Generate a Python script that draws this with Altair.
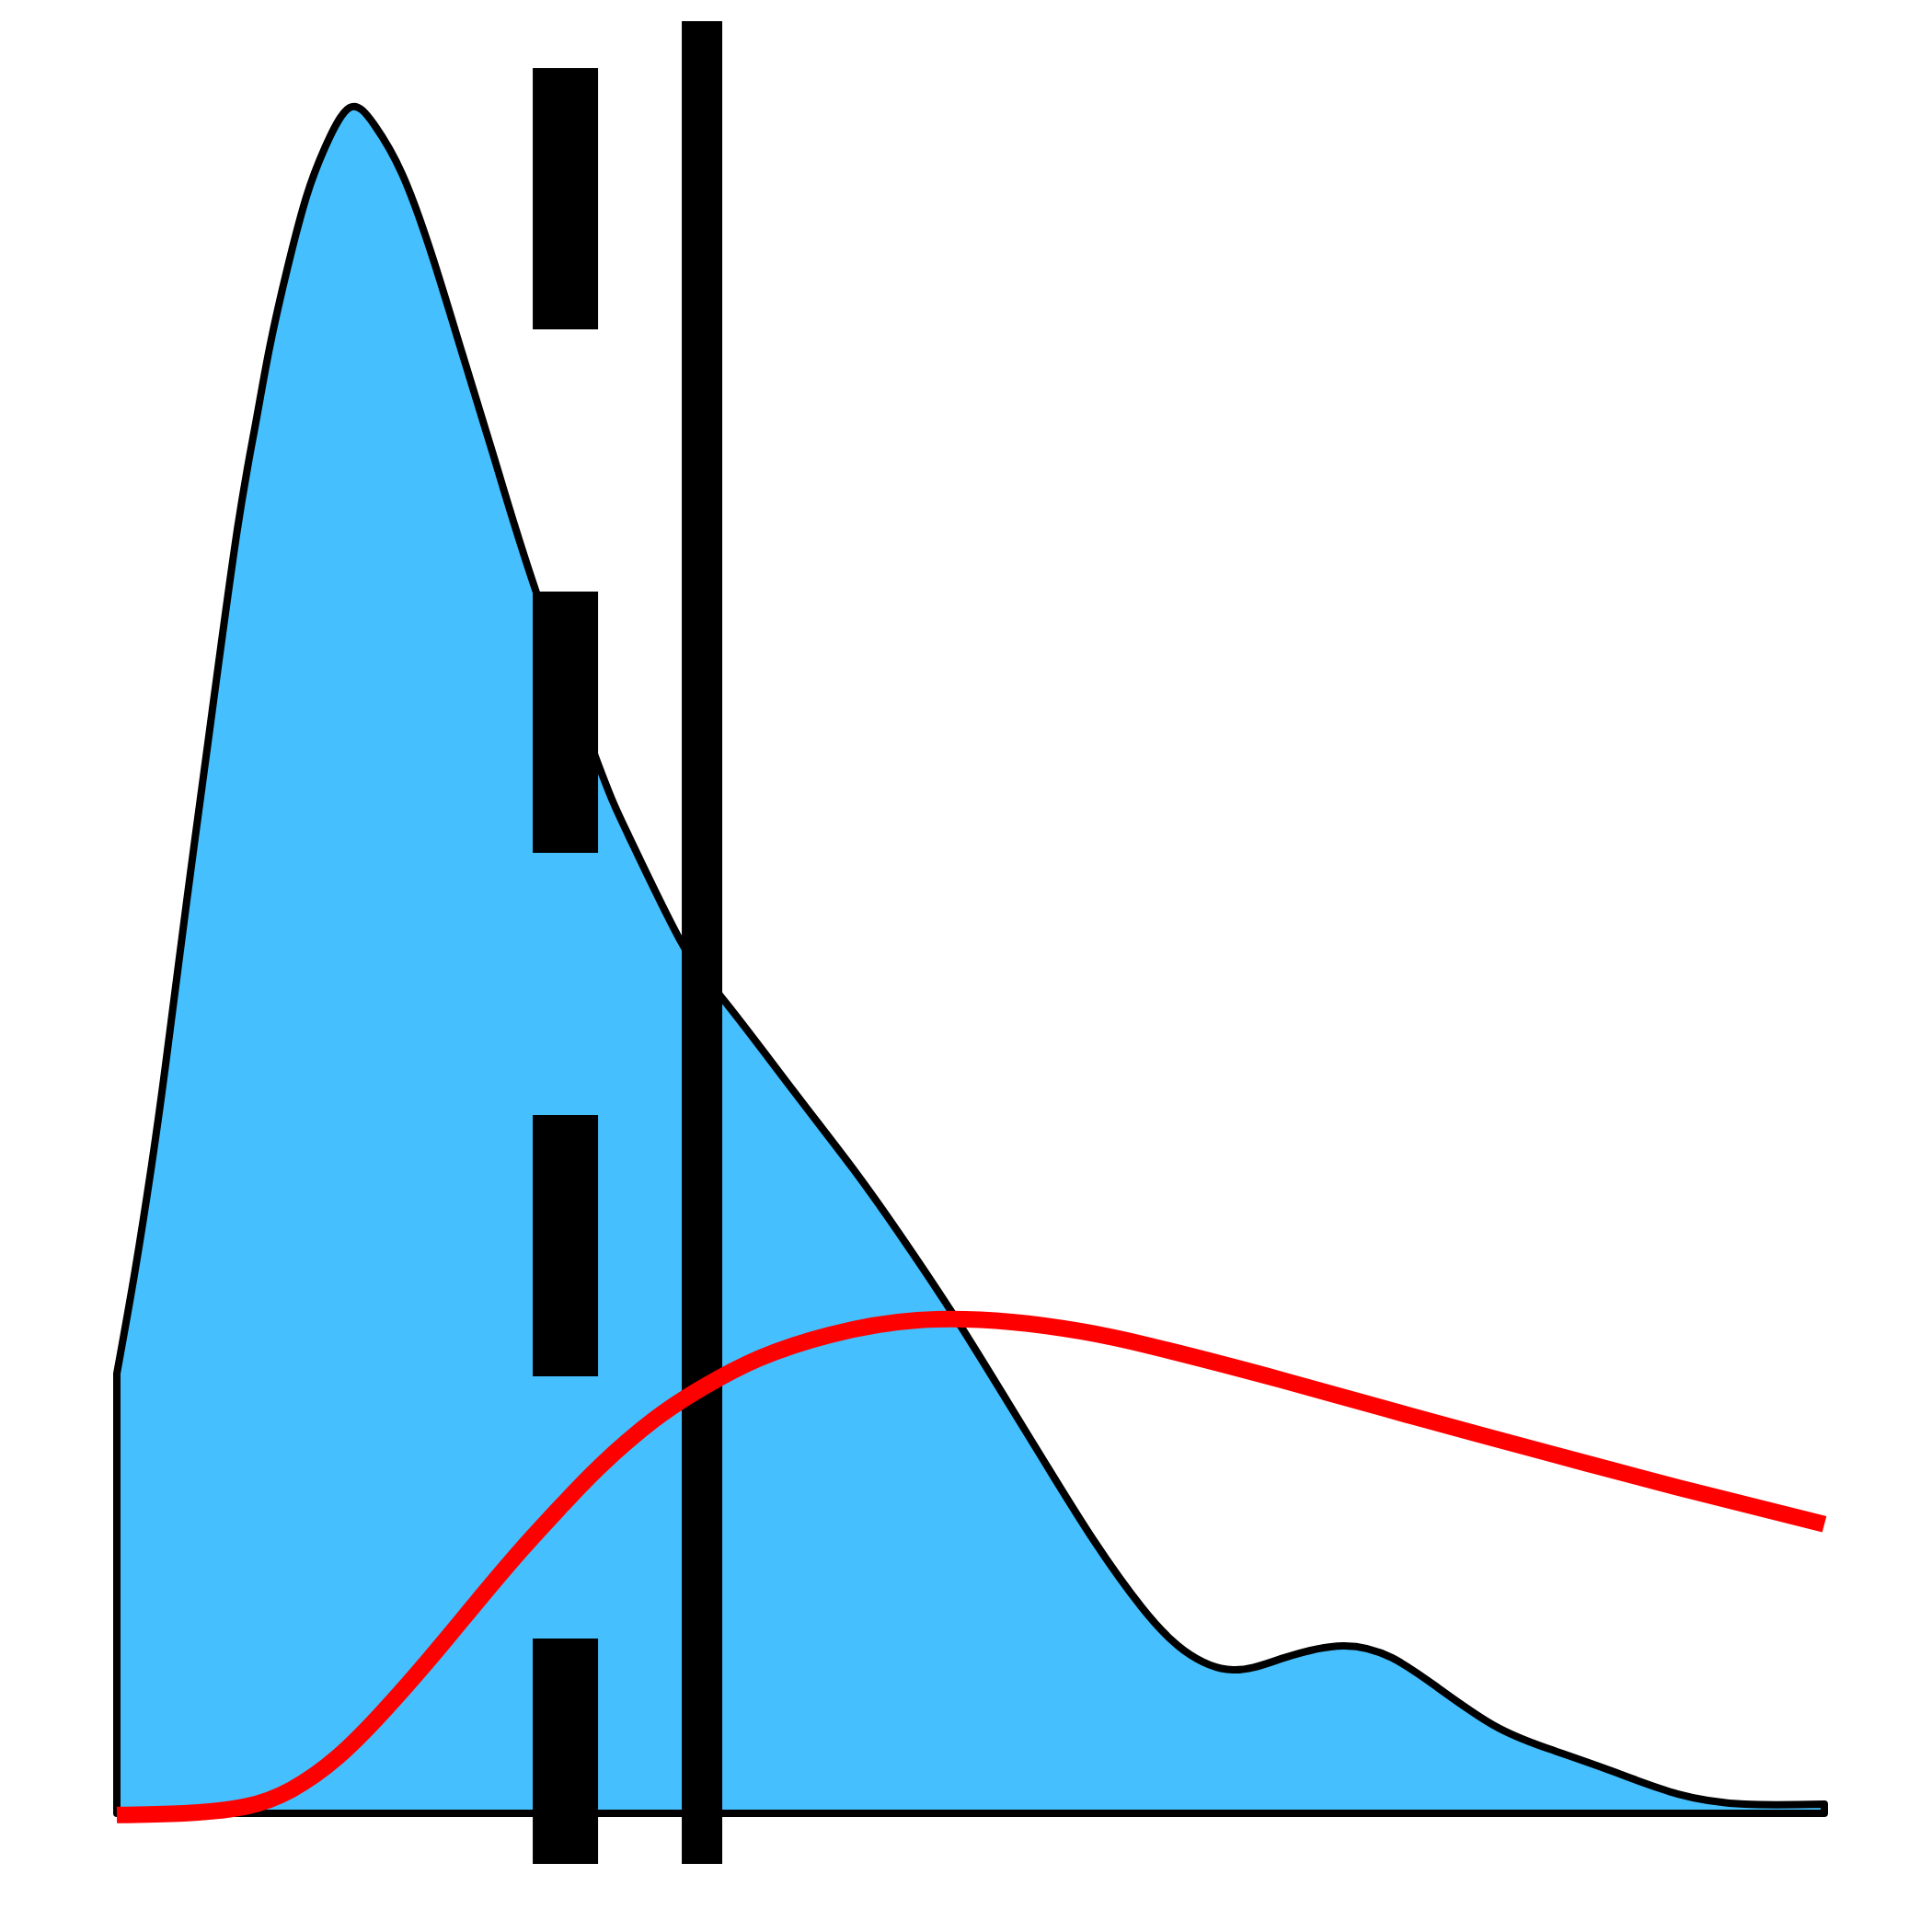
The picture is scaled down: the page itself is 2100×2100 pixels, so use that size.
import altair as alt
import pandas as pd

# Density curve (blue area with black outline)
dens_x = [0.000, 0.1078, 0.2048, 0.2856, 0.4095, 0.5388, 0.7004, 0.8082, 0.8944, 1.0022,
          1.1099, 1.2177, 1.3631, 1.5086, 1.6703, 1.8481, 2.0259, 2.2091, 2.4569, 2.8179,
          3.0011, 3.3082, 3.5453, 3.9601, 4.3265, 4.6121, 4.9030, 5.1778, 5.4526, 5.7274,
          6.0022, 6.2500, 6.5356, 6.8373, 7.1821, 7.4677, 7.7263, 8.0603, 8.3728, 8.7554,
          9.1433, 9.5312, 10.000]
dens_y = [0.2578, 0.3188, 0.3808, 0.4390, 0.5350, 0.6316, 0.7492, 0.8123, 0.8592, 0.9072,
          0.9477, 0.9763, 1.0000, 0.9898, 0.9612, 0.9126, 0.8549, 0.7950, 0.7157, 0.6154,
          0.5723, 0.5102, 0.4779, 0.4239, 0.3759, 0.3355, 0.2918, 0.2476, 0.2028, 0.1591,
          0.1208, 0.0955, 0.0841, 0.0912, 0.0982, 0.0912, 0.0744, 0.0518, 0.0383, 0.0248,
          0.0113, 0.0054, 0.0054]

# Fitted curve (red line)
fit_x = [0.000, 0.393, 0.754, 1.024, 1.293, 1.563, 1.832, 2.101, 2.371, 2.608, 2.834, 3.144,
         3.432, 3.761, 4.176, 4.690, 5.242, 5.650, 6.051, 6.824, 7.597, 8.373, 9.143, 10.000]
fit_y = [-0.001, 0.000, 0.004, 0.014, 0.033, 0.060, 0.0906, 0.1230, 0.1548, 0.1807, 0.2039,
         0.2306, 0.2497, 0.2667, 0.2805, 0.2891, 0.2880, 0.2825, 0.2740, 0.2540, 0.2325,
         0.2115, 0.1910, 0.1695]

# Reference lines (dashed = median, solid = mean)
median_x = [2.627]
median_top = [1.0232]
mean_x = [3.427]
mean_top = [1.0507]
rule_bottom = -0.0297

X_DOMAIN = [-0.6412, 10.5873]
Y_DOMAIN = [-0.06527, 1.05879]

dens = pd.DataFrame({"x": dens_x, "y": dens_y})
fit = pd.DataFrame({"x": fit_x, "y": fit_y})
med = pd.DataFrame({"x": median_x, "y": median_top, "y2": [rule_bottom]})
mean = pd.DataFrame({"x": mean_x, "y": mean_top, "y2": [rule_bottom]})

xs = alt.Scale(domain=X_DOMAIN, nice=False, zero=False)
ys = alt.Scale(domain=Y_DOMAIN, nice=False, zero=False)

area = alt.Chart(dens).mark_area(
    color="#45bffd", fill="#45bffd", stroke="black", strokeWidth=8,
    strokeJoin="round", interpolate="natural", clip=False
).encode(
    x=alt.X("x:Q", scale=xs, axis=None),
    y=alt.Y("y:Q", scale=ys, axis=None),
)

med_rule = alt.Chart(med).mark_rule(
    color="black", strokeWidth=71, strokeDash=[284, 285], clip=False
).encode(
    x=alt.X("x:Q", scale=xs, axis=None),
    y=alt.Y("y:Q", scale=ys, axis=None),
    y2="y2:Q",
)

mean_rule = alt.Chart(mean).mark_rule(
    color="black", strokeWidth=44, clip=False
).encode(
    x=alt.X("x:Q", scale=xs, axis=None),
    y=alt.Y("y:Q", scale=ys, axis=None),
    y2="y2:Q",
)

line = alt.Chart(fit).mark_line(
    color="#ff0000", strokeWidth=18, interpolate="natural", clip=False
).encode(
    x=alt.X("x:Q", scale=xs, axis=None),
    y=alt.Y("y:Q", scale=ys, axis=None),
)

chart = alt.layer(area, med_rule, mean_rule, line).properties(
    width=2084, height=2084,
    autosize=alt.AutoSizeParams(type="none"),
    padding=0,
).configure_view(stroke=None)

chart.save("out.html", embed_options={"renderer": "svg", "actions": False})
